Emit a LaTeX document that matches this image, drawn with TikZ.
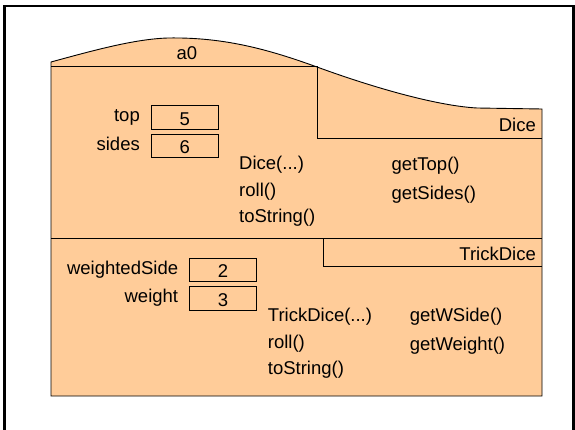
\documentclass[tikz,border=0pt]{standalone}
\usepackage{fontspec}
\setmainfont{Liberation Sans}
\usetikzlibrary{positioning}
\definecolor{peach}{HTML}{FFCC99}

\begin{document}
\begin{tikzpicture}[x=1pt,y=-1pt,
    every node/.style={inner sep=0pt,text height=13pt,text depth=4pt,
      font=\fontsize{18.5}{22}\selectfont},
    field/.style={draw,minimum width=67pt,minimum height=23.5pt,
      text height=16pt,text depth=0pt},
    member/.style={anchor=base west},
    node distance=9pt]
  \useasboundingbox (0,0) rectangle (575,430);
  % frame
  \draw[line width=2.6pt] (4.5,440) -- (4.5,6) -- (573.5,6) -- (573.5,440);
  % object a0
  \filldraw[fill=peach,line width=0.9pt] (51,396) -- (51,62)
    .. controls (95,50) and (135,39) .. (168,38)
    .. controls (225,37) and (270,50) .. (317,67)
    .. controls (380,90) and (440,106) .. (477,108)
    -- (542,109) -- (542,396) -- cycle;
  \draw[line width=0.9pt] (51,66.7) -- (317,66.7) -- (317,138.3) -- (542,138.3);
  \draw[line width=0.9pt] (51,238.3) -- (542,238.3);
  \draw[line width=0.9pt] (323,238.3) -- (323,266.7) -- (542,266.7);
  \node[anchor=base] (obj) at (187,60) {a0};
  \node[anchor=base east] (dice) at (536,132) {Dice};
  \node[anchor=base east] (trick) at (536,260) {TrickDice};

  % Dice part
  \node[field] (top) at (184.7,117.3) {5};
  \node[field,below=4.7pt of top] (sides) {6};
  \node[left=11pt of top] (toplbl) {top};
  \node[left=11pt of sides] (sideslbl) {sides};
  \node[member] (dicector) at (239,170) {Dice(...)};
  \node[below=of dicector.south west,anchor=north west] (roll) {roll()};
  \node[below=of roll.south west,anchor=north west] (tostr) {toString()};
  \node[member] (gettop) at (391.5,171) {getTop()};
  \node[below=11pt of gettop.south west,anchor=north west] (getsides) {getSides()};

  % TrickDice part
  \node[field] (wside) at (223,269.5) {2};
  \node[field,below=4.7pt of wside] (weight) {3};
  \node[left=11pt of wside] (wsidelbl) {weightedSide};
  \node[left=11pt of weight] (weightlbl) {weight};
  \node[member] (trickctor) at (267.7,321.7) {TrickDice(...)};
  \node[below=of trickctor.south west,anchor=north west] (troll) {roll()};
  \node[below=of troll.south west,anchor=north west] (ttostr) {toString()};
  \node[member] (getwside) at (409.6,321.7) {getWSide()};
  \node[below=11pt of getwside.south west,anchor=north west] (getweight) {getWeight()};
\end{tikzpicture}
\end{document}
